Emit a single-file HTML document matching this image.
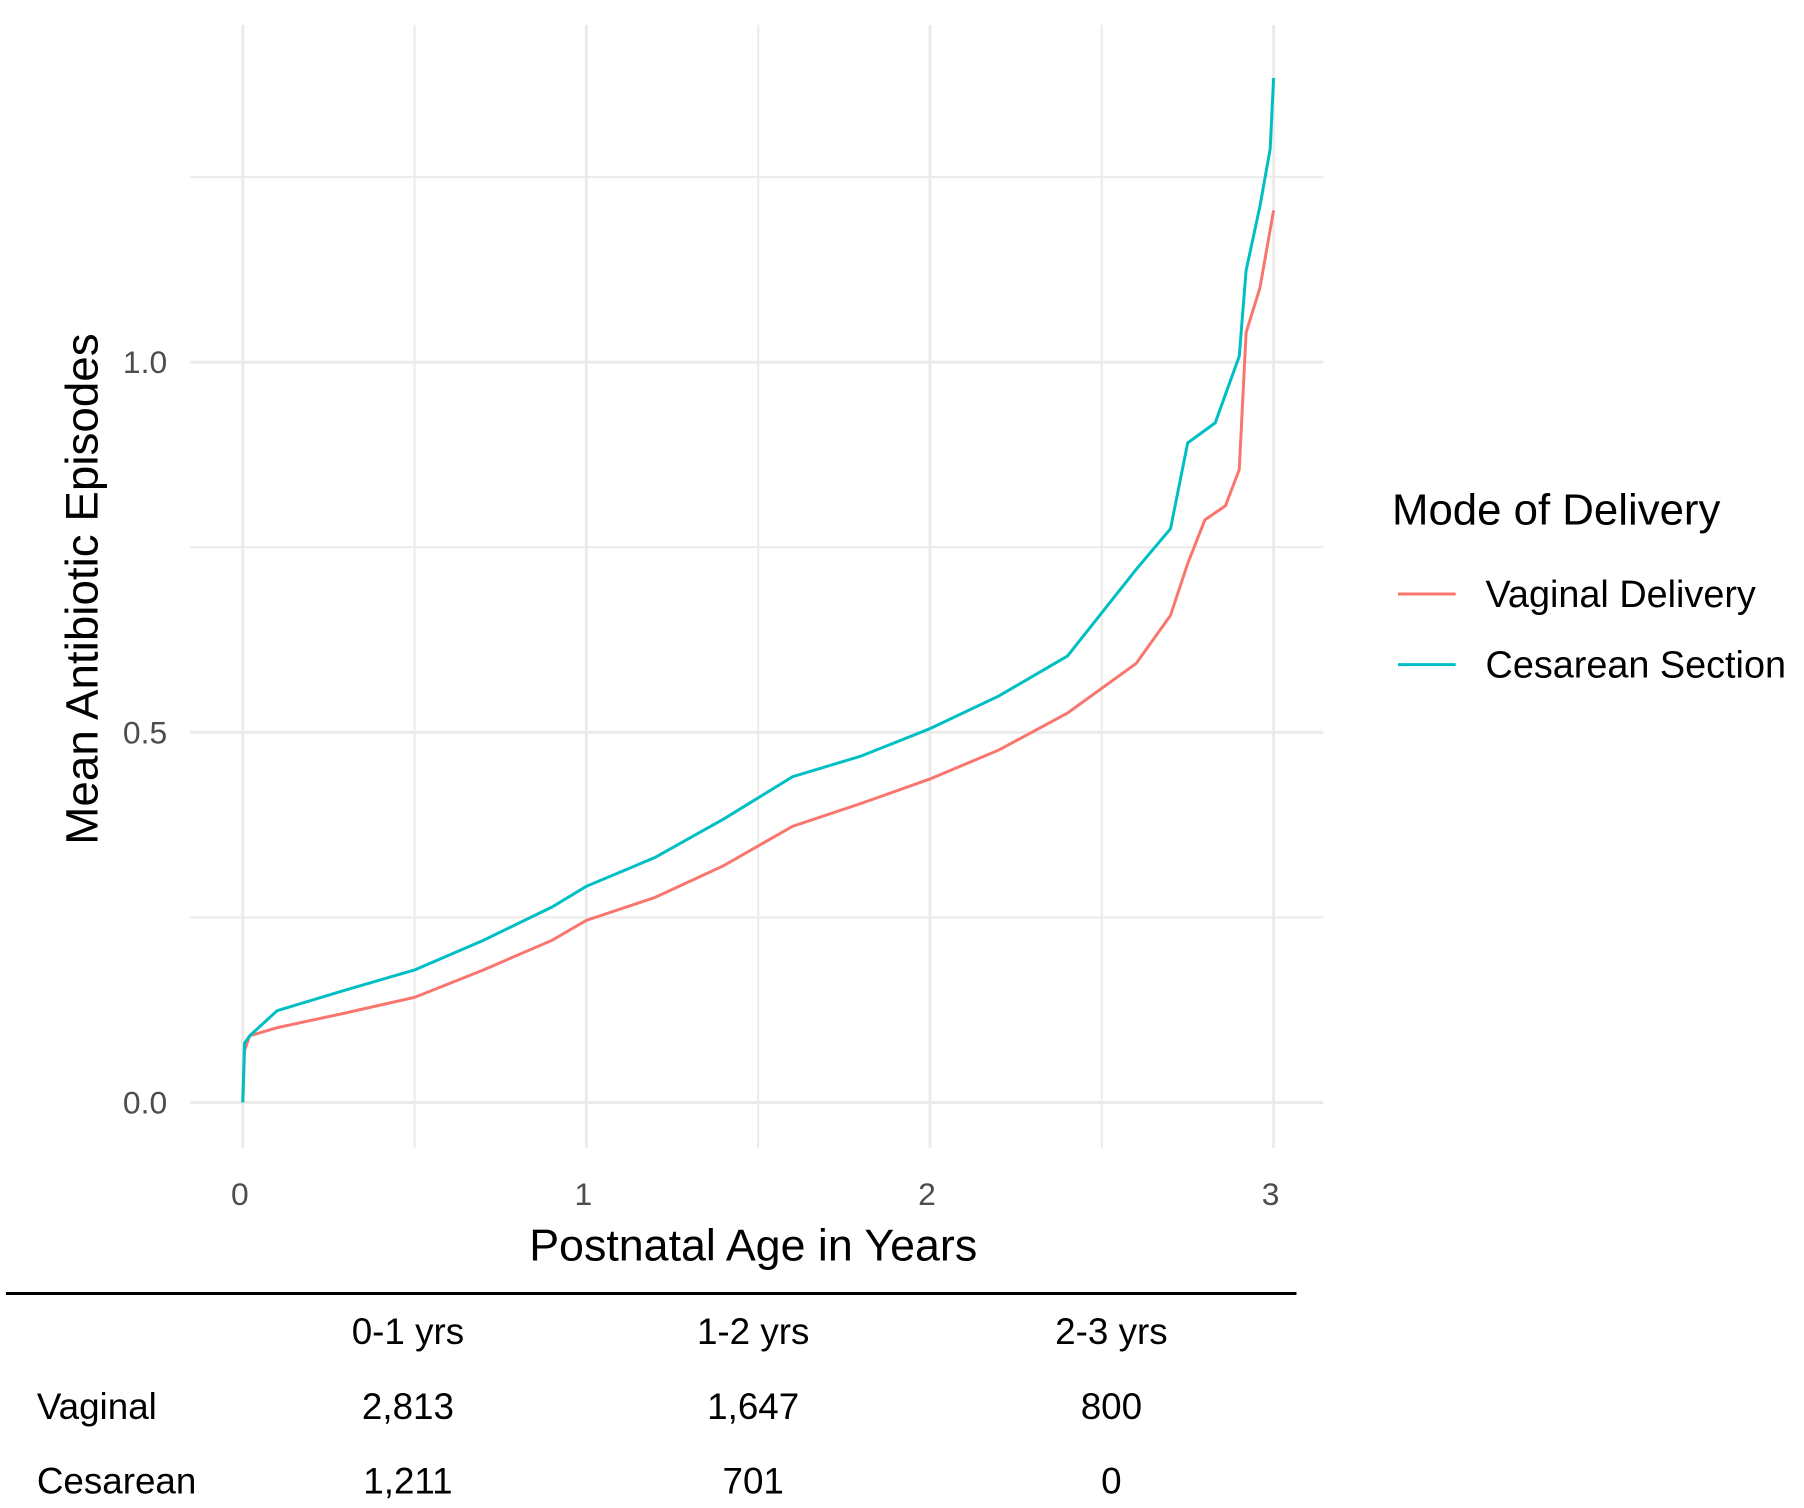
<!DOCTYPE html>
<html><head><meta charset="utf-8">
<style>
body{margin:0;background:#fff;width:1804px;height:1508px;overflow:hidden}
svg{display:block;font-family:"Liberation Sans",sans-serif}
</style></head><body>
<svg id="chart" width="1804" height="1508">
<g transform="scale(0.995)">
<g id="grid"></g>
<g id="series"></g>
<g id="axes"></g>
<text x="0" y="0" transform="translate(98,592) rotate(-90)" text-anchor="middle" font-size="46" fill="#000">Mean Antibiotic Episodes</text>
<text x="757" y="1267" text-anchor="middle" font-size="45" fill="#000">Postnatal Age in Years</text>
<g>
<text x="1399" y="527" font-size="44" fill="#000">Mode of Delivery</text>
<line x1="1405" x2="1463" y1="597" y2="597" stroke="#F8766D" stroke-width="3"/>
<text x="1493" y="610" font-size="38" fill="#000">Vaginal Delivery</text>
<line x1="1405" x2="1463" y1="668" y2="668" stroke="#00BFC4" stroke-width="3"/>
<text x="1493" y="681" font-size="38" fill="#000">Cesarean Section</text>
</g>
<g font-size="37" fill="#000">
<line x1="6" x2="1303" y1="1300" y2="1300" stroke="#000" stroke-width="3"/>
<text x="410" y="1351" text-anchor="middle">0-1 yrs</text>
<text x="757" y="1351" text-anchor="middle">1-2 yrs</text>
<text x="1117" y="1351" text-anchor="middle">2-3 yrs</text>
<text x="37" y="1426">Vaginal</text>
<text x="410" y="1426" text-anchor="middle">2,813</text>
<text x="757" y="1426" text-anchor="middle">1,647</text>
<text x="1117" y="1426" text-anchor="middle">800</text>
<text x="37" y="1501">Cesarean</text>
<text x="410" y="1501" text-anchor="middle">1,211</text>
<text x="757" y="1501" text-anchor="middle">701</text>
<text x="1117" y="1501" text-anchor="middle">0</text>
</g>
</g>
</svg>
<script>
const xTicks=[0,1,2,3];
const xMinor=[0.5,1.5,2.5];
const yTicks=[0,0.5,1.0];
const yTickLabels=["0.0","0.5","1.0"];
const yMinor=[0.25,0.75,1.25];
const vagX=[0,0.005,0.02,0.1,0.3,0.5,0.7,0.9,1.0,1.2,1.4,1.6,1.8,2.0,2.2,2.4,2.6,2.7,2.75,2.8,2.86,2.9,2.92,2.96,3.0];
const vagY=[0,0.07,0.09,0.101,0.121,0.142,0.179,0.219,0.246,0.277,0.32,0.373,0.404,0.437,0.476,0.526,0.593,0.658,0.728,0.787,0.806,0.855,1.04,1.10,1.205];
const cesX=[0,0.005,0.02,0.1,0.3,0.5,0.7,0.9,1.0,1.2,1.4,1.6,1.8,2.0,2.2,2.4,2.6,2.7,2.75,2.83,2.9,2.92,2.96,2.99,3.0];
const cesY=[0,0.08,0.09,0.124,0.152,0.179,0.219,0.264,0.292,0.331,0.383,0.44,0.468,0.505,0.549,0.603,0.72,0.775,0.891,0.918,1.008,1.124,1.21,1.288,1.384];
const NS="http://www.w3.org/2000/svg";
const X=v=>244+v*(1280-244)/3;
const Y=v=>1108-v*(1108-364);
const grid=document.getElementById('grid'),axes=document.getElementById('axes'),ser=document.getElementById('series');
function line(g,x1,y1,x2,y2,c,w){const l=document.createElementNS(NS,'line');l.setAttribute('x1',x1);l.setAttribute('y1',y1);l.setAttribute('x2',x2);l.setAttribute('y2',y2);l.setAttribute('stroke',c);l.setAttribute('stroke-width',w);g.appendChild(l);return l;}
yMinor.forEach(v=>{const l=line(grid,191,Y(v),1330,Y(v),'#ebebeb',2);

});
xMinor.forEach(v=>{const l=line(grid,X(v),25,X(v),1154,'#ebebeb',2);

});
yTicks.forEach((v,i)=>{const l=line(grid,191,Y(v),1330,Y(v),'#ebebeb',3);


const t=document.createElementNS(NS,'text');t.setAttribute('x',168);t.setAttribute('y',Y(v)+11);t.setAttribute('text-anchor','end');t.setAttribute('font-size','32');t.setAttribute('fill','#4d4d4d');t.textContent=yTickLabels[i];


axes.appendChild(t);});
xTicks.forEach(v=>{const l=line(grid,X(v),25,X(v),1154,'#ebebeb',3);


const t=document.createElementNS(NS,'text');t.setAttribute('x',X(v)-3);t.setAttribute('y',1211);t.setAttribute('text-anchor','middle');t.setAttribute('font-size','32');t.setAttribute('fill','#4d4d4d');t.textContent=v;


axes.appendChild(t);});
function path(xs,ys,c,name){let d='M'+X(xs[0])+','+Y(ys[0]);for(let i=1;i<xs.length;i++){d+=' L'+X(xs[i])+','+Y(ys[i]);}
const p=document.createElementNS(NS,'path');p.setAttribute('d',d);p.setAttribute('fill','none');p.setAttribute('stroke',c);p.setAttribute('stroke-width',3);


ser.appendChild(p);}
path(vagX,vagY,'#F8766D','vaginal-delivery-line');
path(cesX,cesY,'#00BFC4','cesarean-section-line');
</script>
</body></html>
